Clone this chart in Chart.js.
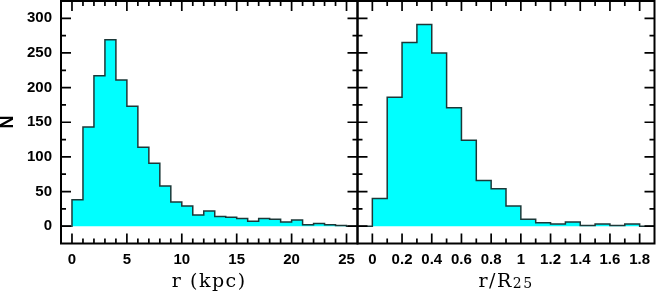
<!DOCTYPE html>
<html><head><meta charset="utf-8">
<script src="https://cdn.jsdelivr.net/npm/chart.js@4"></script>
<style>
html,body{margin:0;padding:0;background:#fff;}
#wrap{position:relative;width:656px;height:292px;}
canvas{position:absolute;left:0;top:0;}
</style></head><body>
<div id="wrap"><canvas id="c1" width="656" height="292"></canvas><canvas id="c2" width="656" height="292"></canvas></div>
<script>
// ---- data ----
const kpcEdges = [0,1,2,3,4,5,6,7,8,9,10,11,12,13,14,15,16,17,18,19,20,21,22,23,24,25,26];
const kpcCounts = [38,143,217,269,211,173,114,91,58,35,29,16,22,14,13,11,7,11,10,6,9,2,4,2,1,0];
const r25Edges = [0,0.1,0.2,0.3,0.4,0.5,0.6,0.7,0.8,0.9,1.0,1.1,1.2,1.3,1.4,1.5,1.6,1.7,1.8,1.9];
const r25Counts = [40,186,265,291,250,171,124,66,54,29,10,5,3,6,1,3,1,3,0];
const kpcTickLabels = [0,5,10,15,20,25];
const r25TickLabels = [0,0.2,0.4,0.6,0.8,1,1.2,1.4,1.6,1.8];
const nTickLabels = [0,50,100,150,200,250,300];
const yTitle = 'N';
const xTitleLeft = 'r (kpc)';
const xTitleRightMain = 'r/R';
const xTitleRightSub = '25';

// ---- helpers ----
function stepPoints(edges, counts, xMin){
  const pts = [{x:xMin, y:0}];
  counts.forEach((c,i)=>pts.push({x:edges[i], y:c}));
  pts.push({x:edges[edges.length-1], y:counts[counts.length-1]});
  return pts;
}
function minorList(min, max, step){
  const out=[];
  for(let k=Math.ceil(min/step-1e-9); k*step<=max+1e-9; k++) out.push(Math.round(k*step*1000)/1000);
  return out;
}
const tickFont = {family:'Liberation Sans', size:15, weight:'bold'};

function framePlugin(cfg){
  return {
    id:'frame'+cfg.id,
    afterDraw(chart){
      const ctx=chart.ctx, a=chart.chartArea, xs=chart.scales.x, ys=chart.scales.y;
      ctx.save();
      ctx.strokeStyle='#000';
      ctx.lineWidth=1.7;
      const MAJ=10, MIN=5;
      const drawX=(v,len)=>{const p=xs.getPixelForValue(v); if(p<a.left+1||p>a.right-1) return;
        ctx.beginPath(); ctx.moveTo(p,a.bottom); ctx.lineTo(p,a.bottom-len);
        ctx.moveTo(p,a.top); ctx.lineTo(p,a.top+len); ctx.stroke();};
      const drawY=(v,len)=>{const p=ys.getPixelForValue(v); if(p<a.top+1||p>a.bottom-1) return;
        ctx.beginPath(); ctx.moveTo(a.left,p); ctx.lineTo(a.left+len,p);
        ctx.moveTo(a.right,p); ctx.lineTo(a.right-len,p); ctx.stroke();};
      minorList(xs.min,xs.max,cfg.xMinor).forEach(v=>{ if(!cfg.xMajor.some(m=>Math.abs(m-v)<1e-6)) drawX(v,MIN);});
      cfg.xMajor.forEach(v=>drawX(v,MAJ));
      minorList(ys.min,ys.max,cfg.yMinor).forEach(v=>{ if(!nTickLabels.some(m=>Math.abs(m-v)<1e-6)) drawY(v,MIN);});
      nTickLabels.forEach(v=>drawY(v,MAJ));
      ctx.lineWidth=2;
      ctx.strokeRect(a.left,a.top,a.right-a.left,a.bottom-a.top);
      ctx.fillStyle='#000';
      const cx=(a.left+a.right)/2;
      if(cfg.id===1){
        ctx.save();
        ctx.translate(8,122); ctx.rotate(-Math.PI/2);
        ctx.font='bold 18px "Liberation Sans"'; ctx.textAlign='center'; ctx.textBaseline='middle';
        ctx.fillText(yTitle,0,0);
        ctx.restore();
        ctx.font='19px "DejaVu Serif"'; ctx.textAlign='center'; ctx.textBaseline='alphabetic';
        ctx.letterSpacing='1.5px';
        ctx.fillText(xTitleLeft,cx,286.5);
      } else {
        ctx.letterSpacing='1.5px';
        ctx.font='19px "DejaVu Serif"';
        const w1=ctx.measureText(xTitleRightMain).width;
        ctx.font='14px "DejaVu Serif"';
        const w2=ctx.measureText(xTitleRightSub).width;
        const x0=cx-(w1+w2)/2;
        ctx.textAlign='left'; ctx.textBaseline='alphabetic';
        ctx.font='19px "DejaVu Serif"';
        ctx.fillText(xTitleRightMain,x0,286.5);
        ctx.font='14px "DejaVu Serif"';
        ctx.fillText(xTitleRightSub,x0+w1,287.5);
      }
      ctx.restore();
    }
  };
}

function makeChart(id, canvasId, edges, counts, xMin, xMax, xTicks, xMinor, pad, showY){
  return new Chart(document.getElementById(canvasId), {
    type:'line',
    data:{datasets:[{
      data:stepPoints(edges,counts,xMin),
      stepped:'before',
      fill:'origin',
      backgroundColor:'#00ffff',
      borderColor:'#1c3838',
      borderWidth:1.5,
      pointRadius:0
    }]},
    options:{
      responsive:false, animation:false,
      layout:{padding:pad},
      plugins:{legend:{display:false}, tooltip:{enabled:false}},
      scales:{
        x:{type:'linear', min:xMin, max:xMax,
           afterBuildTicks:s=>{s.ticks=xTicks.map(v=>({value:v}));},
           afterFit:s=>{s.height=48.5; s.paddingLeft=0; s.paddingRight=0;},
           grid:{display:false, drawTicks:false}, border:{display:false},
           ticks:{font:tickFont, color:'#000', padding:7, maxRotation:0, autoSkip:false, callback:v=>String(v)}},
        y:{type:'linear', min:-25, max:325, display:showY,
           afterBuildTicks:s=>{s.ticks=nTickLabels.map(v=>({value:v}));},
           afterFit:s=>{s.width=showY?61:0; s.paddingTop=0; s.paddingBottom=0;},
           grid:{display:false, drawTicks:false}, border:{display:false},
           ticks:{font:tickFont, color:'#000', padding:9, callback:v=>String(v)}}
      }
    },
    plugins:[framePlugin({id, xMajor:xTicks, xMinor, yMinor:25})]
  });
}

makeChart(1,'c1',kpcEdges,kpcCounts,-1,26,kpcTickLabels,1,{left:0,top:1,right:298.5,bottom:0},true);
makeChart(2,'c2',r25Edges,r25Counts,-0.1,1.9,r25TickLabels,0.1,{left:357.5,top:1,right:1.5,bottom:0},false);
</script>
</body></html>
